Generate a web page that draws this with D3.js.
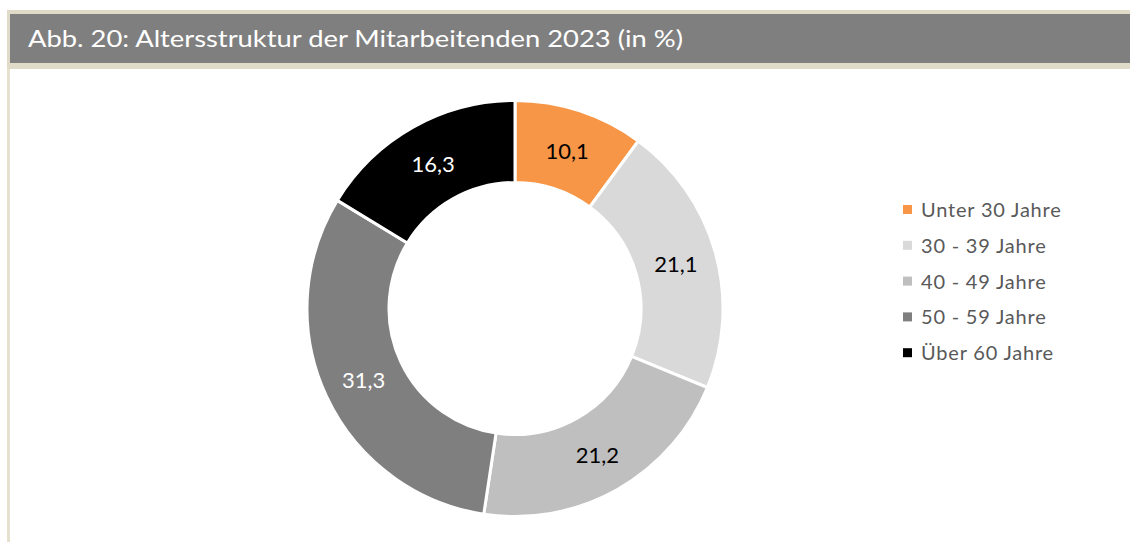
<html>
<head>
  <meta charset="utf-8">
  <script src="https://d3js.org/d3.v7.min.js"></script>
  <style>
    body { margin: 0; background: #fff; }
    svg { display: block; font-family: Lato, "Open Sans", sans-serif; }
  </style>
</head>
<body>

<svg class="chart" width="1130" height="542"></svg>

<script>
  var title = 'Abb. 20: Altersstruktur der Mitarbeitenden 2023 (in %)';
  var categories = ['Unter 30 Jahre', '30 - 39 Jahre', '40 - 49 Jahre', '50 - 59 Jahre', 'Über 60 Jahre'];
  var values = [10.1, 21.1, 21.2, 31.3, 16.3];
  var colors = ['#f79646', '#d9d9d9', '#bfbfbf', '#7f7f7f', '#000000'];
  var labelColors = ['#000', '#000', '#000', '#fff', '#fff'];

  var svg = d3.select('svg.chart');

  // frame + header band
  svg.append('rect').attr('x', 7).attr('y', 10).attr('width', 1123).attr('height', 59).attr('fill', '#e0dbc8');
  svg.append('rect').attr('x', 7).attr('y', 69).attr('width', 3).attr('height', 473).attr('fill', '#e6e1cf');
  svg.append('rect').attr('x', 10).attr('y', 14).attr('width', 1120).attr('height', 49).attr('fill', '#7f7f7f');

  svg.append('text')
    .attr('x', 28).attr('y', 47)
    .attr('fill', '#fff')
    .style('font-size', '24px')
    .attr('textLength', 655)
    .attr('lengthAdjust', 'spacingAndGlyphs')
    .text(title);

  // donut
  var cx = 515, cy = 308.5, outerR = 208, innerR = 126;
  var pie = d3.pie().sort(null).value(function(d) { return d; });
  var arc = d3.arc().innerRadius(innerR).outerRadius(outerR);
  var arcs = pie(values);

  var g = svg.append('g').attr('transform', 'translate(' + cx + ',' + cy + ')');

  g.selectAll('path')
    .data(arcs)
    .enter()
    .append('path')
    .attr('d', arc)
    .attr('fill', function(d, i) { return colors[i]; })
    .attr('stroke', '#fff')
    .attr('stroke-width', 3);

  g.selectAll('text')
    .data(arcs)
    .enter()
    .append('text')
    .attr('transform', function(d) { return 'translate(' + arc.centroid(d) + ')'; })
    .attr('text-anchor', 'middle')
    .attr('dy', '0.41em')
    .attr('fill', function(d, i) { return labelColors[i]; })
    .style('font-size', '22px')
    .text(function(d) { return String(d.data).replace('.', ','); });

  // legend
  var legend = svg.append('g').attr('transform', 'translate(903, 205)');
  var rows = legend.selectAll('g')
    .data(categories)
    .enter()
    .append('g')
    .attr('transform', function(d, i) { return 'translate(0,' + (i * 35.8) + ')'; });

  rows.append('rect')
    .attr('width', 9).attr('height', 9)
    .attr('fill', function(d, i) { return colors[i]; });

  rows.append('text')
    .attr('x', 18).attr('y', 12)
    .attr('fill', '#595959')
    .style('font-size', '20px')
    .style('letter-spacing', '0.8px')
    .text(function(d) { return d; });
</script>

</body>
</html>
